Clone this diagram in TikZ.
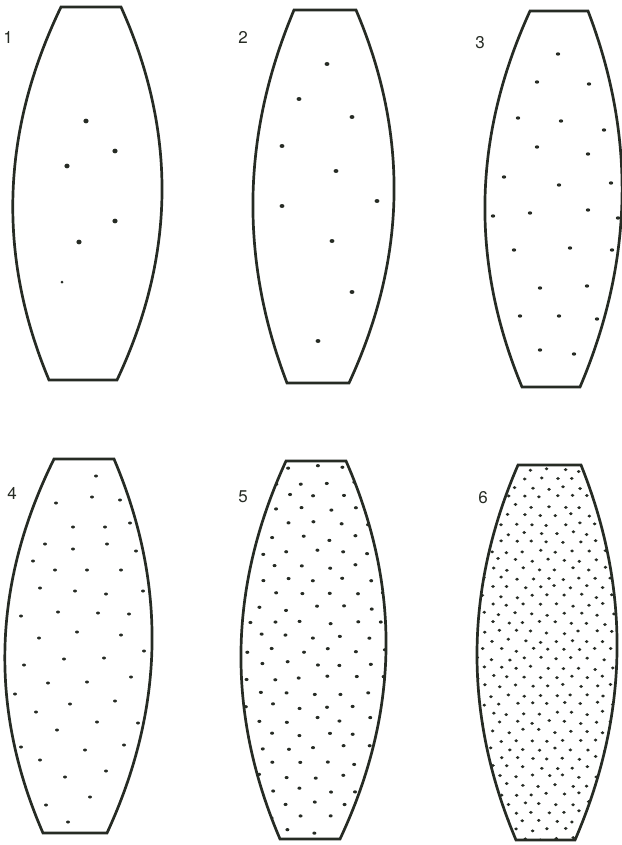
\documentclass[tikz,border=0pt]{standalone}
\usepackage{fontspec}
\setmainfont{TeX Gyre Heros}
\usepackage{xcolor}
\usepackage{tikz}
\usetikzlibrary{calc}
\definecolor{ink}{RGB}{38, 43, 36}

%% outline of one barrel: top-left x, top-right x, bottom-left x, bottom-right x,
%% top y, bottom y, left bulge x, right bulge x
\newcommand{\barrel}[8]{(#1,#5) -- (#2,#5)
  .. controls ({#2+(#4-#2)/3+4/3*(#8-(#2+#4)/2)},{#5+(#6-#5)/3})
          and ({#2+2*(#4-#2)/3+4/3*(#8-(#2+#4)/2)},{#5+2*(#6-#5)/3}) .. (#4,#6)
  -- (#3,#6)
  .. controls ({#3+(#1-#3)/3+4/3*(#7-(#1+#3)/2)},{#6+(#5-#6)/3})
          and ({#3+2*(#1-#3)/3+4/3*(#7-(#1+#3)/2)},{#6+2*(#5-#6)/3}) .. (#1,#5)
  -- cycle}

\begin{document}
\begin{tikzpicture}[
    x=1pt, y=-1pt,
    outline/.style={draw=ink, line width=2.7pt, line join=miter},
    num/.style={font=\fontsize{17pt}{19pt}\selectfont, text=ink, inner sep=0pt},
    ink/.style={fill=ink}
]
\useasboundingbox (0,0) rectangle (621,845);

%% labels
\node[num] (n1) at (8,37)   {1};
\node[num] (n2) at (243,37) {2};
\node[num] (n3) at (480,43) {3};
\node[num] (n4) at (12,493) {4};
\node[num] (n5) at (243,497){5};
\node[num] (n6) at (483,498){6};

%% 1
\foreach \p in {(86,121),(115,151),(67,166),(115,221),(79,242)}
  \fill[ink] \p ellipse[x radius=2.6pt, y radius=2.4pt];
\fill[ink] (62,282) circle[radius=1.5pt];
\draw[outline] \barrel{61}{121}{49}{117}{7}{380}{13}{162};

%% 2
\foreach \p in {(327,64),(299,99),(352,117),(282,146),(336,171),
                (377,201),(282,206),(332,241),(352,292),(318,341)}
  \fill[ink] \p ellipse[x radius=2.4pt, y radius=2pt];
\draw[outline] \barrel{294}{356}{287}{349}{10}{383}{253}{394};

%% 3
\foreach \p in {(558,54),(537,82),(589,84),(518,118),(561,121),(604,130),
                (537,147),(588,154),(504,177),(559,185),(611,183),(493,216),
                (530,213),(588,210),(618,218),(514,250),(570,248),(612,250),
                (540,288),(587,286),(520,316),(559,316),(597,319),(540,350),
                (574,354)}
  \fill[ink] \p ellipse[x radius=2.2pt, y radius=1.7pt];
\draw[outline] \barrel{530}{588}{522}{580}{11}{387}{485}{622};

%% 4
\foreach \p in {(96,476),(56,503),(92,497),(120,500),(73,527),(105,527),
                (130,523),(45,544),(73,549),(107,544),(136,551),(33,561),
                (55,570),(87,570),(121,570),(40,588),(75,591),(106,594),
                (143,591),(21,616),(58,612),(98,613),(129,614),(39,638),
                (77,632),(121,635),(144,651),(24,665),(64,659),(104,658),
                (48,683),(87,682),(131,677),(15,694),(70,704),(115,701),
                (36,712),(97,722),(138,723),(57,730),(21,747),(85,750),
                (124,745),(40,760),(65,777),(106,771),(90,797),(46,805),
                (68,822)}
  \fill[ink] \p ellipse[x radius=2pt, y radius=1.5pt];
\draw[outline] \barrel{54}{114}{43}{107}{459}{833}{5}{152};

%% 5
\pgfmathsetseed{12}
\begin{scope}
  \clip \barrel{286}{346}{280}{340}{461}{839}{241}{386};
  \foreach \r in {0,...,27}{
    \foreach \c in {0,...,6}{
      \pgfmathsetmacro{\px}{234+27*\c+13.5*mod(\r,2)+3*rand}
      \pgfmathsetmacro{\py}{468+14*\r+2.5*rand}
      \fill[ink] (\px,\py) ellipse[x radius=2pt, y radius=1.6pt];
    }
  }
\end{scope}
\draw[outline] \barrel{286}{346}{280}{340}{461}{839}{241}{386};

%% 6
\pgfmathsetseed{31}
\begin{scope}
  \clip \barrel{518}{581}{516}{575}{465}{840}{477}{617};
  \foreach \r in {0,...,41}{
    \foreach \c in {0,...,10}{
      \pgfmathsetmacro{\px}{468+16*\c+8*mod(\r,2)+2*rand}
      \pgfmathsetmacro{\py}{470+9*\r+1.8*rand}
      \fill[ink] (\px,\py) ellipse[x radius=1.9pt, y radius=1.6pt];
    }
  }
\end{scope}
\draw[outline] \barrel{518}{581}{516}{575}{465}{840}{477}{617};

\end{tikzpicture}
\end{document}
